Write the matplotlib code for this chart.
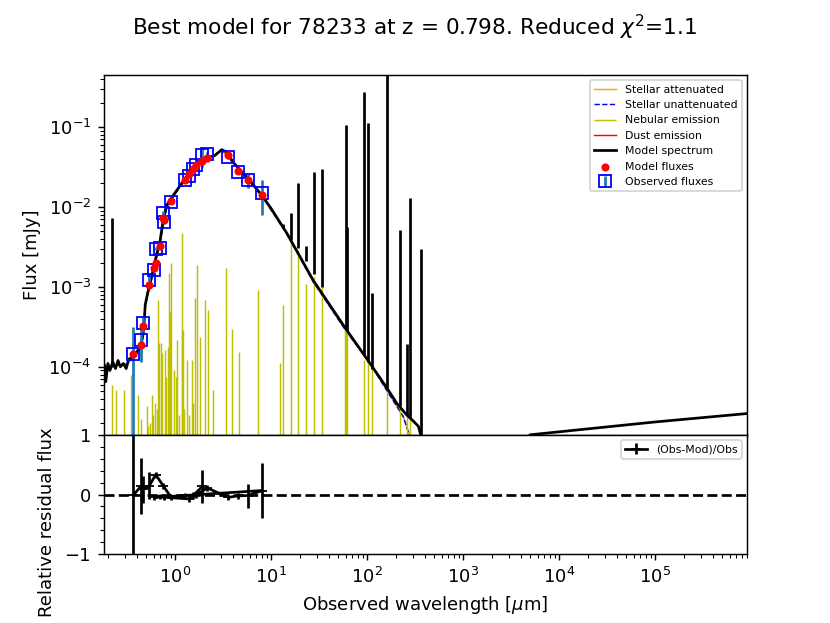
import numpy as np
import matplotlib
matplotlib.use('Agg')
import matplotlib.pyplot as plt
from matplotlib import gridspec

# best model continuum, observed frame (um, mJy)
spec_wl = [0.175, 0.185, 0.19, 0.2, 0.21, 0.225, 0.24, 0.255, 0.27, 0.29, 0.31, 0.33,
           0.36, 0.40, 0.44, 0.47, 0.49, 0.52, 0.55, 0.62, 0.70, 0.755, 0.82, 0.92,
           1.13, 1.32, 1.68, 2.14, 2.6, 3.06, 3.4, 4.05, 4.76, 6.0, 8.0, 10.0, 14.6,
           27.6, 60.0, 100.0, 160.0, 204.0, 259.0, 303.0, 343.0, 363.0, 375.0, 5000.0,
           1.0e5, 9.1e5]
spec_flux = [9.0e-5, 1.05e-4, 6.5e-5, 1.1e-4, 9.0e-5, 1.15e-4, 9.5e-5, 1.2e-4, 1.0e-4,
             1.1e-4, 9.5e-5, 1.25e-4, 1.3e-4, 1.55e-4, 1.75e-4, 2.8e-4, 6.0e-4, 8.5e-4,
             1.1e-3, 2.1e-3, 3.8e-3, 7.0e-3, 1.05e-2, 1.3e-2, 1.85e-2, 2.4e-2, 3.3e-2,
             4.1e-2, 4.4e-2, 5.2e-2, 4.9e-2, 3.6e-2, 2.9e-2, 2.15e-2, 1.4e-2, 9.6e-3,
             4.7e-3, 1.2e-3, 3.0e-4, 1.25e-4, 5.5e-5, 3.5e-5, 2.5e-5, 2.1e-5, 1.8e-5,
             1.4e-5, 1.0e-6, 1.41e-5, 2.04e-5, 2.6e-5]

# stellar component alone
star_wl = [0.175, 0.2, 0.25, 0.3, 0.36, 0.44, 0.47, 0.49, 0.55, 0.70, 0.82, 1.13, 1.68,
           3.06, 4.05, 8.0, 14.6, 27.6, 60.0, 107.0, 160.0, 239.0, 276.0, 320.0]
star_flux = [9.5e-5, 1.0e-4, 1.05e-4, 1.05e-4, 1.25e-4, 1.7e-4, 2.7e-4, 5.8e-4, 1.05e-3,
             3.7e-3, 1.0e-2, 1.8e-2, 3.25e-2, 5.1e-2, 3.55e-2, 1.38e-2, 4.6e-3, 1.15e-3,
             2.85e-4, 1.1e-4, 5.1e-5, 2.37e-5, 1.4e-5, 8.0e-6]

# dust emission (nothing above the plot floor)
dust_wl = []
dust_flux = []

# emission lines in the model spectrum
line_wl = [0.2186, 13.4, 16.2, 18.9, 23.2, 28.0, 33.7, 60.3, 62.6, 93.8, 102.0, 113.6,
           160.0, 219.0, 263.0, 282.0, 369.0]
line_base = [1.0e-4, 5.5e-3, 3.9e-3, 3.1e-3, 2.1e-3, 1.45e-3, 1.0e-3, 3.0e-4, 2.8e-4,
             1.4e-4, 1.15e-4, 9.5e-5, 5.5e-5, 3.2e-5, 2.5e-5, 2.3e-5, 1.0e-7]
line_peak = [7.2e-3, 6.2e-3, 8.5e-3, 2.0e-2, 3.2e-3, 2.75e-2, 3.0e-2, 1.05e-1, 5.6e-3,
             0.275, 0.112, 8.4e-4, 1.0, 5.1e-3, 1.94e-4, 1.31e-2, 2.94e-3]

# nebular emission lines
neb_wl = [0.2186, 0.243, 0.294, 0.345, 0.415, 0.439, 0.507, 0.52, 0.55, 0.571, 0.59,
          0.619, 0.65, 0.670, 0.687, 0.715, 0.737, 0.780, 0.806, 0.852, 0.874, 0.892,
          0.900, 0.976, 1.024, 1.057, 1.1, 1.180, 1.184, 1.215, 1.25, 1.344, 1.4, 1.491,
          1.55, 1.615, 1.708, 1.821, 2.05, 2.225, 2.507, 3.40, 3.89, 4.68, 7.38, 12.4,
          13.4, 16.2, 18.9, 23.2, 28.0, 33.7, 59.0, 60.3, 61.0, 62.6, 93.8, 102.0, 113.6,
          160.0, 219.0, 263.0, 282.0]
neb_peak = [5.9e-5, 5.1e-5, 5.1e-5, 7.9e-5, 4.4e-5, 2.2e-5, 3.2e-5, 1.8e-5, 2.0e-5,
            4.4e-5, 2.5e-5, 3.5e-5, 3.0e-5, 6.8e-4, 1.96e-4, 1.96e-4, 1.47e-4, 1.62e-4,
            7.5e-5, 1.78e-4, 1.47e-3, 5.0e-4, 1.96e-3, 9.1e-5, 7.5e-5, 2.16e-4, 2.5e-5,
            4.65e-3, 2.88e-4, 2.88e-4, 3.0e-5, 1.21e-4, 2.5e-5, 1.21e-4, 3.5e-5, 7.2e-4,
            1.87e-3, 2.37e-4, 6.8e-4, 5.1e-4, 5.1e-5, 1.7e-3, 3.0e-4, 1.55e-4, 9.1e-4,
            1.1e-4, 5.9e-4, 3.8e-3, 2.9e-3, 1.1e-3, 1.33e-3, 1.0e-3, 3.0e-4, 3.0e-4,
            2.9e-4, 2.8e-4, 1.2e-4, 1.2e-4, 1.1e-4, 3.9e-4, 4.7e-5, 2.4e-5, 3.0e-5]

# photometry (filter order of the catalogue)
filters_wl = np.array([0.368, 0.443, 0.461, 0.541, 0.629, 0.755, 0.909, 1.27, 1.64, 2.17,
                       3.6, 4.5, 5.8, 8.1, 0.604, 0.698, 0.774, 1.41, 1.55, 1.93])
obs_fluxes = np.array([1.44e-4, 2.16e-4, 3.5e-4, 1.23e-3, 3.0e-3, 8.4e-3, 1.15e-2, 2.16e-2,
                       3.3e-2, 4.6e-2, 4.2e-2, 2.74e-2, 2.16e-2, 1.5e-2, 1.62e-3, 3.1e-3,
                       6.5e-3, 2.42e-2, 2.95e-2, 4.4e-2])
obs_err = np.array([1.72e-4, 1.0e-4, 8.0e-5, 2.8e-4, 1.5e-4, 4.0e-4, 5.0e-4, 1.0e-3,
                    1.5e-3, 2.0e-3, 2.0e-3, 1.5e-3, 4.3e-3, 7.0e-3, 8.0e-5, 1.5e-4,
                    3.0e-4, 1.2e-3, 1.5e-3, 1.2e-2])
mod_fluxes = np.array([1.46e-4, 1.85e-4, 3.2e-4, 1.05e-3, 2.0e-3, 7.2e-3, 1.2e-2, 2.2e-2,
                       3.35e-2, 4.1e-2, 4.4e-2, 2.8e-2, 2.2e-2, 1.4e-2, 1.7e-3, 3.2e-3,
                       6.8e-3, 2.6e-2, 3.0e-2, 3.8e-2])

xmin, xmax = 0.181, 9.08e5
ymin, ymax = 1.42e-5, 0.45

fig = plt.figure(figsize=(830 / 130, 623 / 130), dpi=130)
gs = gridspec.GridSpec(2, 1, height_ratios=[3, 1])
ax1 = plt.subplot(gs[0])
ax2 = plt.subplot(gs[1])

ax1.loglog(star_wl, star_flux, label="Stellar attenuated", color='orange',
           linestyle='-', linewidth=0.8)
ax1.loglog(star_wl, star_flux, label="Stellar unattenuated", color='b',
           linestyle='--', linewidth=0.8)
ax1.vlines(neb_wl, 1e-7, neb_peak, color='y', linewidth=0.8, label="Nebular emission")
ax1.loglog(dust_wl, dust_flux, label="Dust emission", color='r', linewidth=0.8)
ax1.loglog(spec_wl, spec_flux, label="Model spectrum", color='k', linewidth=1.5)
ax1.vlines(line_wl, line_base, line_peak, color='k', linewidth=1.5)

ax1.set_autoscale_on(False)
ax1.scatter(filters_wl, mod_fluxes, marker='o', color='r', s=12, zorder=3,
            label="Model fluxes")
ax1.errorbar(filters_wl, obs_fluxes, yerr=obs_err, ls='', marker='s',
             label='Observed fluxes', markerfacecolor='None', markersize=7,
             markeredgecolor='b', capsize=0.)

res = (obs_fluxes - mod_fluxes) / obs_fluxes
res_err = obs_err / obs_fluxes
ax2.errorbar(filters_wl, res, yerr=res_err, marker='_', label="(Obs-Mod)/Obs",
             color='k', capsize=0.)
ax2.plot([xmin, xmax], [0., 0.], ls='--', color='k')
ax2.set_xscale('log')
ax2.minorticks_on()

fig.subplots_adjust(hspace=0., wspace=0.)

ax1.set_xlim(xmin, xmax)
ax2.set_xlim(xmin, xmax)
ax1.set_ylim(ymin, ymax)
ax2.set_ylim(-1.0, 1.0)
ax2.set_xlabel(r"Observed wavelength [$\mu$m]")
ax1.set_ylabel("Flux [mJy]")
ax2.set_ylabel("Relative residual flux")
ax2.yaxis.set_label_coords(-0.075, 0.27)
ax1.legend(fontsize=6, loc='upper right')
ax2.legend(fontsize=6, loc='upper right')
ax1.tick_params(labelbottom=False)
fig.suptitle(r"Best model for 78233 at z = 0.798. Reduced $\chi^2$=1.1")

fig.savefig('out.png', dpi=130)
